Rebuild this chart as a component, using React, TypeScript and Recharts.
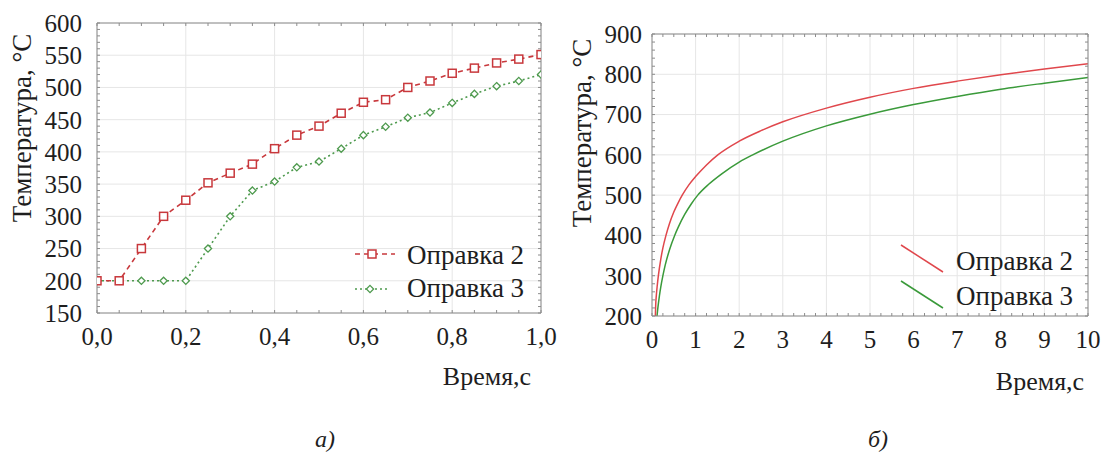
import React from 'react';
import { LineChart, Line, XAxis, YAxis, CartesianGrid, Legend, Label } from 'recharts';

// ---------- chart (a) ----------
const timeA = [0, 0.05, 0.1, 0.15, 0.2, 0.25, 0.3, 0.35, 0.4, 0.45, 0.5, 0.55, 0.6, 0.65, 0.7, 0.75, 0.8, 0.85, 0.9, 0.95, 1.0];
const opr2A = [200, 200, 250, 300, 325, 352, 367, 381, 405, 426, 440, 460, 477, 481, 500, 510, 522, 530, 538, 544, 551];
const opr3A = [200, 200, 200, 200, 200, 250, 300, 340, 354, 376, 385, 405, 426, 439, 453, 461, 476, 490, 502, 510, 520];
const xTicksA = [0, 0.2, 0.4, 0.6, 0.8, 1.0];
const yTicksA = [150, 200, 250, 300, 350, 400, 450, 500, 550, 600];

// ---------- chart (б) ----------
const timeB2 = [0.077, 0.085, 0.1, 0.12, 0.146, 0.2, 0.25, 0.32, 0.4, 0.5, 0.6, 0.7, 0.85, 1, 1.25, 1.51, 2, 2.5, 3, 4, 5, 6, 7, 8, 9, 10];
const opr2B = [200, 228, 252, 275, 300, 340, 369, 400, 429, 458, 481, 501, 526, 546, 575, 600, 634, 660, 682, 716, 743, 765, 783, 799, 813, 826];
const timeB3 = [0.115, 0.13, 0.15, 0.17, 0.2, 0.25, 0.3, 0.4, 0.52, 0.6, 0.75, 0.9, 1.05, 1.3, 1.6, 2, 2.31, 3, 4, 5, 6, 7, 8, 9, 10];
const opr3B = [200, 216, 234, 250, 271, 300, 325, 364, 400, 420, 452, 478, 500, 527, 553, 582, 600, 634, 672, 701, 725, 745, 763, 778, 792];
const xTicksB = [0, 1, 2, 3, 4, 5, 6, 7, 8, 9, 10];
const yTicksB = [200, 300, 400, 500, 600, 700, 800, 900];

const seriesNames = ['Оправка 2', 'Оправка 3'];
const yTitle = 'Температура, °C';
const xTitle = 'Время,с';
const captions = ['а)', 'б)'];

const SERIF = "'Liberation Serif', 'Times New Roman', Times, Tinos, 'DejaVu Serif', 'Noto Serif', FreeSerif, serif";
const FRAME = '#8c8c8c';
const GRID = '#e6e6e6';
const TXT = '#1e1e1e';
const RED_A = '#c8383c';
const GREEN_A = '#4e9a4e';
const RED_B = '#e0474c';
const GREEN_B = '#3a9a3a';

const range = (a: number, b: number, s: number) => {
  const out: number[] = [];
  for (let i = 0; a + i * s <= b + 1e-9; i++) out.push(+(a + i * s).toFixed(4));
  return out;
};

const dataA = timeA.map((t, i) => ({ t, a: opr2A[i], b: opr3A[i] }));
const dataB2 = timeB2.map((t, i) => ({ t, v: opr2B[i] }));
const dataB3 = timeB3.map((t, i) => ({ t, v: opr3B[i] }));

const tickStyle = { fill: TXT, fontSize: 25, fontFamily: SERIF };
const blank = () => '';

const SquareDot = (p: any) => {
  const { cx, cy, index } = p;
  if (cx == null || cy == null) return <g key={`s${index}`} />;
  return <rect key={`s${index}`} x={cx - 4} y={cy - 4} width={8} height={8} fill="#fff" stroke={RED_A} strokeWidth={1.5} />;
};
const DiamondDot = (p: any) => {
  const { cx, cy, index } = p;
  if (cx == null || cy == null) return <g key={`d${index}`} />;
  const r = 3.6;
  return (
    <polygon
      key={`d${index}`}
      points={`${cx},${cy - r} ${cx + r},${cy} ${cx},${cy + r} ${cx - r},${cy}`}
      fill="#fff"
      stroke={GREEN_A}
      strokeWidth={1.3}
    />
  );
};

const rotTitle = (x: number, y: number) => () => (
  <text x={x} y={y} transform={`rotate(-90 ${x} ${y})`} textAnchor="middle" dominantBaseline="central" fill={TXT} fontSize={27} style={{ fontFamily: SERIF }}>
    {yTitle}
  </text>
);
const xTitleAt = (x: number, y: number) => () => (
  <text x={x} y={y} textAnchor="middle" fill={TXT} fontSize={26} style={{ fontFamily: SERIF }}>
    {xTitle}
  </text>
);

const LegendA = () => (
  <svg width={215} height={72} style={{ display: 'block', overflow: 'visible' }}>
    <line x1={10} y1={18} x2={50} y2={18} stroke={RED_A} strokeWidth={1.6} strokeDasharray="5 4" />
    <rect x={23} y={14} width={8} height={8} fill="#fff" stroke={RED_A} strokeWidth={1.5} />
    <text x={62} y={19} dominantBaseline="central" fill={TXT} fontSize={27} style={{ fontFamily: SERIF }}>{seriesNames[0]}</text>
    <line x1={10} y1={53} x2={45} y2={53} stroke={GREEN_A} strokeWidth={1.6} strokeDasharray="2 3" />
    <polygon points="25,49.4 28.6,53 25,56.6 21.4,53" fill="#fff" stroke={GREEN_A} strokeWidth={1.3} />
    <text x={62} y={52} dominantBaseline="central" fill={TXT} fontSize={27} style={{ fontFamily: SERIF }}>{seriesNames[1]}</text>
  </svg>
);

const LegendB = () => (
  <svg width={215} height={80} style={{ display: 'block', overflow: 'visible' }}>
    <line x1={11} y1={9} x2={53} y2={36} stroke={RED_B} strokeWidth={1.5} />
    <text x={66} y={25} dominantBaseline="central" fill={TXT} fontSize={27} style={{ fontFamily: SERIF }}>{seriesNames[0]}</text>
    <line x1={11} y1={45} x2={53} y2={72} stroke={GREEN_B} strokeWidth={1.5} />
    <text x={66} y={60} dominantBaseline="central" fill={TXT} fontSize={27} style={{ fontFamily: SERIF }}>{seriesNames[1]}</text>
  </svg>
);

const frameAxes = (xDom: number[], yDom: number[], xMinor: number[], yMinor: number[]) => [
  <XAxis key="mb" xAxisId="mb" type="number" dataKey="t" domain={xDom} allowDataOverflow ticks={xMinor} mirror orientation="bottom" axisLine={false} tickLine={{ stroke: FRAME }} tickSize={3} tickFormatter={blank} />,
  <XAxis key="tp" xAxisId="tp" type="number" dataKey="t" domain={xDom} allowDataOverflow ticks={xMinor} mirror orientation="top" axisLine={{ stroke: FRAME }} tickLine={{ stroke: FRAME }} tickSize={3} tickFormatter={blank} />,
  <YAxis key="ml" yAxisId="ml" type="number" domain={yDom} allowDataOverflow ticks={yMinor} mirror orientation="left" axisLine={false} tickLine={{ stroke: FRAME }} tickSize={3} tickFormatter={blank} />,
  <YAxis key="rt" yAxisId="rt" type="number" domain={yDom} allowDataOverflow ticks={yMinor} mirror orientation="right" axisLine={{ stroke: FRAME }} tickLine={{ stroke: FRAME }} tickSize={3} tickFormatter={blank} />,
];

export default function App() {
  return (
    <div style={{ position: 'absolute', left: 0, top: 0, width: 1103, height: 455, background: '#fff', overflow: 'hidden', fontFamily: SERIF }}>
      <div style={{ position: 'absolute', left: 0, top: 0 }}>
        <LineChart width={560} height={400} data={dataA} margin={{ top: 23, right: 19, left: 27, bottom: 47 }} style={{ fontFamily: SERIF }}>
          <CartesianGrid stroke={GRID} />
          <XAxis dataKey="t" type="number" domain={[0, 1]} allowDataOverflow ticks={xTicksA} tickFormatter={(v: number) => v.toFixed(1).replace('.', ',')} tick={tickStyle} axisLine={{ stroke: FRAME }} tickLine={false} tickSize={0} tickMargin={14} height={40} interval={0}>
            <Label content={xTitleAt(487, 385)} />
          </XAxis>
          <YAxis type="number" domain={[150, 600]} allowDataOverflow ticks={yTicksA} tick={tickStyle} axisLine={{ stroke: FRAME }} tickLine={false} tickSize={0} tickMargin={15} width={70} interval={0}>
            <Label content={rotTitle(22, 128)} />
          </YAxis>
          {frameAxes([0, 1], [150, 600], range(0, 1, 0.05), range(150, 600, 10))}
          <Line dataKey="b" name={seriesNames[1]} stroke={GREEN_A} strokeWidth={1.6} strokeDasharray="2 3" dot={DiamondDot} isAnimationActive={false} type="linear" />
          <Line dataKey="a" name={seriesNames[0]} stroke={RED_A} strokeWidth={1.6} strokeDasharray="5 4" dot={SquareDot} isAnimationActive={false} type="linear" />
          <Legend layout="horizontal" align="center" verticalAlign="middle" content={LegendA} wrapperStyle={{ position: 'absolute', left: 345, top: 236, width: 215, height: 72 }} />
        </LineChart>
      </div>
      <div style={{ position: 'absolute', left: 560, top: 0 }}>
        <LineChart width={543} height={400} margin={{ top: 34, right: 15, left: 22, bottom: 44 }} style={{ fontFamily: SERIF }}>
          <CartesianGrid stroke={GRID} />
          <XAxis dataKey="t" type="number" domain={[0, 10]} allowDataOverflow ticks={xTicksB} tick={tickStyle} axisLine={{ stroke: FRAME }} tickLine={false} tickSize={0} tickMargin={14} height={40} interval={0}>
            <Label content={xTitleAt(480, 390)} />
          </XAxis>
          <YAxis type="number" domain={[200, 900]} allowDataOverflow ticks={yTicksB} tick={tickStyle} axisLine={{ stroke: FRAME }} tickLine={false} tickSize={0} tickMargin={10} width={70} interval={0}>
            <Label content={rotTitle(22, 133)} />
          </YAxis>
          {frameAxes([0, 10], [200, 900], range(0, 10, 0.25), range(200, 900, 20))}
          <Line data={dataB3} dataKey="v" name={seriesNames[1]} stroke={GREEN_B} strokeWidth={1.5} dot={false} isAnimationActive={false} type="monotone" />
          <Line data={dataB2} dataKey="v" name={seriesNames[0]} stroke={RED_B} strokeWidth={1.5} dot={false} isAnimationActive={false} type="monotone" />
          <Legend layout="horizontal" align="center" verticalAlign="middle" content={LegendB} wrapperStyle={{ position: 'absolute', left: 330, top: 236, width: 215, height: 80 }} />
        </LineChart>
      </div>
      <div style={{ position: 'absolute', left: 305, top: 424, width: 40, textAlign: 'center', fontFamily: SERIF, fontSize: 24, fontStyle: 'italic', color: TXT, lineHeight: '30px' }}>
        {captions[0]}
      </div>
      <div style={{ position: 'absolute', left: 858, top: 424, width: 40, textAlign: 'center', fontFamily: SERIF, fontSize: 24, fontStyle: 'italic', color: TXT, lineHeight: '30px' }}>
        {captions[1]}
      </div>
    </div>
  );
}
